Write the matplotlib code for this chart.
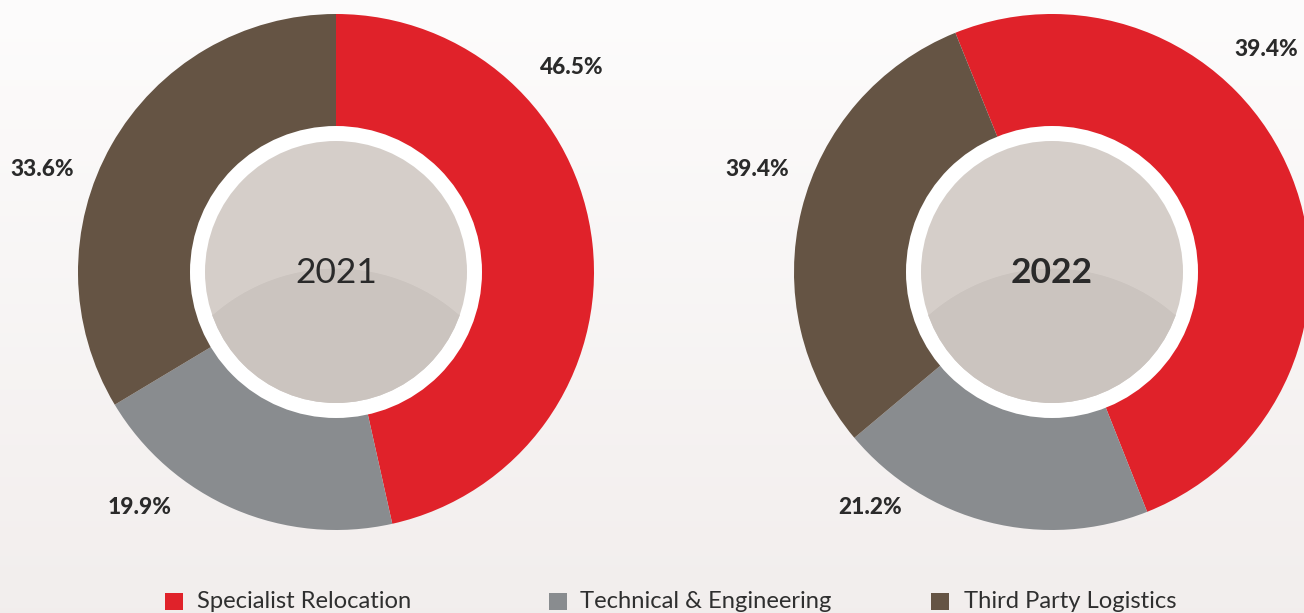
import numpy as np
import matplotlib
matplotlib.use("Agg")
import matplotlib.pyplot as plt
from matplotlib.patches import Circle, Rectangle

# ---- data ----
categories = ["Specialist Relocation", "Technical & Engineering", "Third Party Logistics"]
years = ["2021", "2022"]
shares_2021 = [46.5, 19.9, 33.6]
# wedge sizes as drawn in the 2022 donut
shares_2022 = [50.1, 19.9, 30.0]
labels_2021 = ["46.5%", "19.9%", "33.6%"]
labels_2022 = ["39.4%", "21.2%", "39.4%"]

colors = ["#e0222a", "#898c8f", "#655444"]
W, H = 1304, 613

fig = plt.figure(figsize=(W / 100, H / 100), dpi=100)
ax = fig.add_axes([0, 0, 1, 1])

# background gradient
grad = np.linspace(0, 1, 256)[:, None]
top = np.array([0.992, 0.988, 0.988])
bot = np.array([0.949, 0.933, 0.929])
img = top[None, None, :] * (1 - grad[..., None]) + bot[None, None, :] * grad[..., None]
ax.imshow(img, extent=[0, W, 0, H], origin="upper", aspect="auto", zorder=0)

def fy(y):
    return H - y

def donut(cx, cy, vals, start, year_text, bold):
    ax.pie(vals, colors=colors, startangle=start, counterclock=False,
           center=(cx, fy(cy)), radius=258, wedgeprops=dict(linewidth=0))
    for w in ax.patches[-3:]:
        w.set_zorder(2)
    ax.add_patch(Circle((cx, fy(cy)), 146, color="white", zorder=3, lw=0))
    inner = Circle((cx, fy(cy)), 131, color="#d5cec9", zorder=4, lw=0)
    ax.add_patch(inner)
    arc = Circle((cx, fy(cy) - 183), 187, facecolor="#cbc4bf",
                 edgecolor="#d6cfca", lw=0.8, zorder=5)
    ax.add_patch(arc)
    arc.set_clip_path(inner)
    ax.text(cx, fy(cy + 1), year_text, ha="center", va="center",
            fontsize=25.5, fontfamily="Lato", color="#2a2a2a",
            fontweight="bold" if bold else "normal", zorder=6)

donut(336, 272, shares_2021, 90, years[0], False)
donut(1052, 272, shares_2022, 112, years[1], True)

lbl_pos_2021 = [(572, 67), (140, 507), (42, 170)]
lbl_pos_2022 = [(1266, 50), (870, 507), (757, 170)]
for txt, (x, y) in zip(labels_2021, lbl_pos_2021):
    ax.text(x, fy(y), txt, ha="center", va="center", fontsize=16.3,
            fontfamily="Lato", fontweight=900, color="#2a2a2a", zorder=6)
for txt, (x, y) in zip(labels_2022, lbl_pos_2022):
    ax.text(x, fy(y), txt, ha="center", va="center", fontsize=16.3,
            fontfamily="Lato", fontweight=900, color="#2a2a2a", zorder=6)

# legend
sq_x = [165, 549, 931]
tx_x = [197, 580, 964]
for c, name, sx, tx in zip(colors, categories, sq_x, tx_x):
    ax.add_patch(Rectangle((sx, fy(610)), 18, 17, color=c, lw=0, zorder=6))
    ax.text(tx, fy(608), name, ha="left", va="baseline", fontsize=17.1,
            fontfamily="Lato", color="#2f2f2f", zorder=6)

ax.set_xlim(0, W)
ax.set_ylim(0, H)
ax.set_aspect("auto")
ax.axis("off")
fig.savefig("out.png", dpi=100)
